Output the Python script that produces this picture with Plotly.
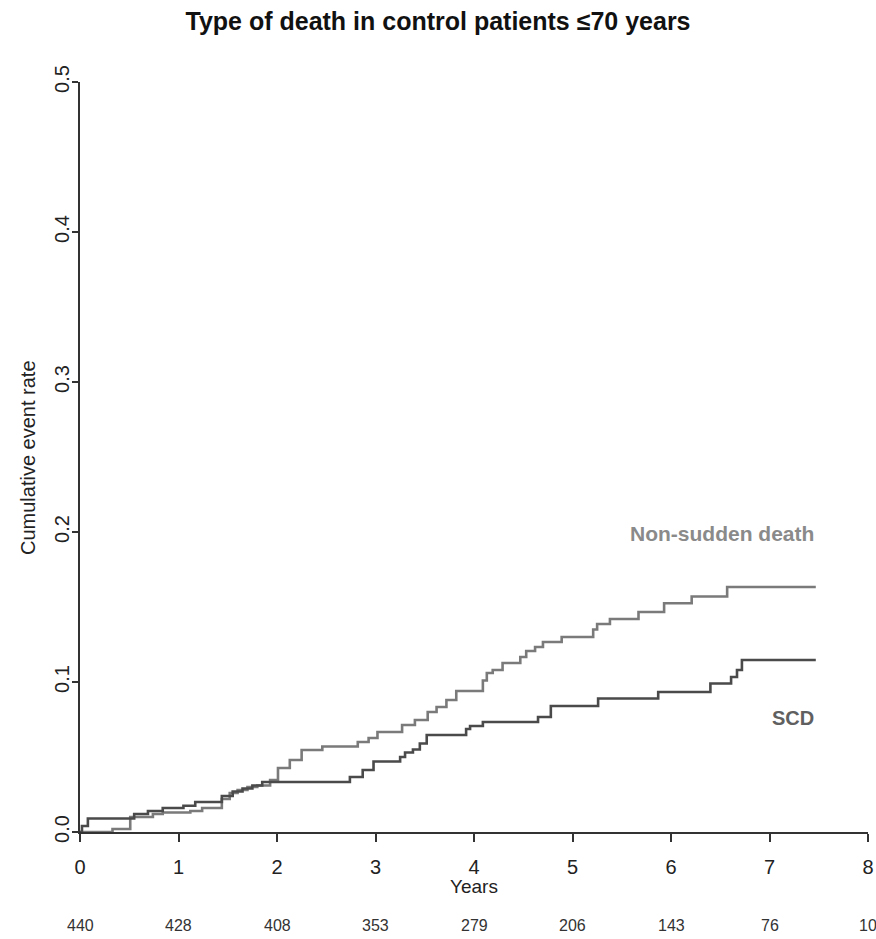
import plotly.graph_objects as go

# Data
scd_t = [0, 0.02, 0.08, 0.55, 0.69, 0.84, 1.05, 1.17, 1.44, 1.55, 1.65, 1.75, 1.85, 2.74, 2.87,
         2.98, 3.25, 3.30, 3.38, 3.45, 3.52, 3.92, 3.96, 4.09, 4.65, 4.78, 5.26, 5.87, 6.40, 6.61,
         6.67, 6.72, 7.47]
scd_v = [0, 0.004, 0.009, 0.012, 0.014, 0.016, 0.0175, 0.02, 0.024, 0.027, 0.029, 0.031, 0.0333,
         0.0367, 0.0413, 0.047, 0.05, 0.053, 0.055, 0.059, 0.0647, 0.0687, 0.0707, 0.0733, 0.0767,
         0.084, 0.089, 0.0933, 0.099, 0.1033, 0.108, 0.1147, 0.1147]

nsd_t = [0, 0.33, 0.51, 0.74, 0.84, 1.12, 1.24, 1.44, 1.52, 1.6, 1.7, 1.8, 1.93, 2.01, 2.13,
         2.25, 2.46, 2.82, 2.93, 3.02, 3.27, 3.40, 3.53, 3.62, 3.72, 3.82, 4.09, 4.13, 4.19, 4.29,
         4.47, 4.53, 4.62, 4.70, 4.89, 5.21, 5.25, 5.38, 5.67, 5.93, 6.21, 6.57, 7.47]
nsd_v = [0, 0.002, 0.01, 0.012, 0.013, 0.014, 0.016, 0.022, 0.026, 0.028, 0.030, 0.031, 0.0347,
         0.0427, 0.048, 0.0547, 0.057, 0.06, 0.0627, 0.0667, 0.0713, 0.0747, 0.080, 0.0833, 0.088,
         0.094, 0.101, 0.106, 0.108, 0.1127, 0.1167, 0.1207, 0.1233, 0.1267, 0.130, 0.135, 0.1387,
         0.142, 0.1467, 0.1525, 0.157, 0.1633, 0.1633]

risk_years = [0, 1, 2, 3, 4, 5, 6, 7, 8]
at_risk = [440, 428, 408, 353, 279, 206, 143, 76, 10]

x_ticks = [0, 1, 2, 3, 4, 5, 6, 7, 8]
y_ticks = [0.0, 0.1, 0.2, 0.3, 0.4, 0.5]
y_tick_labels = ["0.0", "0.1", "0.2", "0.3", "0.4", "0.5"]

FONT = "Liberation Sans Narrow, Arial Narrow, Liberation Sans, Arial, sans-serif"

fig = go.Figure()
fig.add_trace(go.Scatter(x=nsd_t, y=nsd_v, mode="lines", line_shape="hv",
                         line=dict(color="#7a7a7a", width=2.6), name="Non-sudden death"))
fig.add_trace(go.Scatter(x=scd_t, y=scd_v, mode="lines", line_shape="hv",
                         line=dict(color="#4a4a4a", width=2.6), name="SCD"))

annotations = []
# curve labels
annotations.append(dict(x=7.47, y=0.199, xref="x", yref="y", text="<b>Non-sudden death</b>",
                        showarrow=False, xanchor="right", yanchor="middle",
                        font=dict(family="Liberation Sans, Arial, sans-serif", size=21, color="#8a8a8a")))
annotations.append(dict(x=7.47, y=0.076, xref="x", yref="y", text="<b>SCD</b>",
                        showarrow=False, xanchor="right", yanchor="middle",
                        font=dict(family="Liberation Sans, Arial, sans-serif", size=20, color="#606060")))
# numbers at risk
for xv, n in zip(risk_years, at_risk):
    annotations.append(dict(x=xv, y=-0.1253, xref="x", yref="paper", text=str(n),
                            showarrow=False, xanchor="center", yanchor="middle",
                            font=dict(family=FONT, size=16, color="#333333")))
# axis titles
annotations.append(dict(x=0.5, y=-0.0733, xref="paper", yref="paper", text="Years",
                        showarrow=False, xanchor="center", yanchor="middle",
                        font=dict(family=FONT, size=19, color="#222222")))
annotations.append(dict(x=-0.066, y=0.5, xref="paper", yref="paper", text="Cumulative event rate",
                        showarrow=False, xanchor="center", yanchor="middle", textangle=-90,
                        font=dict(family=FONT, size=20, color="#222222")))

fig.update_layout(
    width=876, height=939,
    margin=dict(l=80, r=8, t=82, b=107),
    paper_bgcolor="white", plot_bgcolor="white",
    showlegend=False,
    title=dict(text="<b>Type of death in control patients ≤70 years</b>", x=0.5, xanchor="center",
               y=1 - 21 / 939, yanchor="middle",
               font=dict(family=FONT, size=25, color="#111111")),
    annotations=annotations,
    font=dict(family=FONT, color="#222222"),
)
fig.update_xaxes(range=[0, 8], tickvals=x_ticks, ticks="outside", ticklen=8, tickwidth=1.5,
                 tickcolor="#333333", showline=True, linecolor="#333333", linewidth=1.5,
                 showgrid=False, zeroline=False, automargin=False, ticklabelstandoff=8,
                 tickfont=dict(family=FONT, size=20, color="#222222"))
fig.update_yaxes(range=[0, 0.5], tickvals=y_ticks, ticktext=y_tick_labels, ticks="outside",
                 ticklen=6, tickwidth=1.5, tickcolor="#333333", showline=True, linecolor="#333333",
                 linewidth=1.5, showgrid=False, zeroline=False, tickangle=-90, automargin=False,
                 ticklabelstandoff=-5,
                 tickfont=dict(family=FONT, size=20, color="#222222"))

fig.write_html("out.html", config={"displayModeBar": False},
               post_script="document.body.style.margin='0px';document.body.style.overflow='hidden';")
